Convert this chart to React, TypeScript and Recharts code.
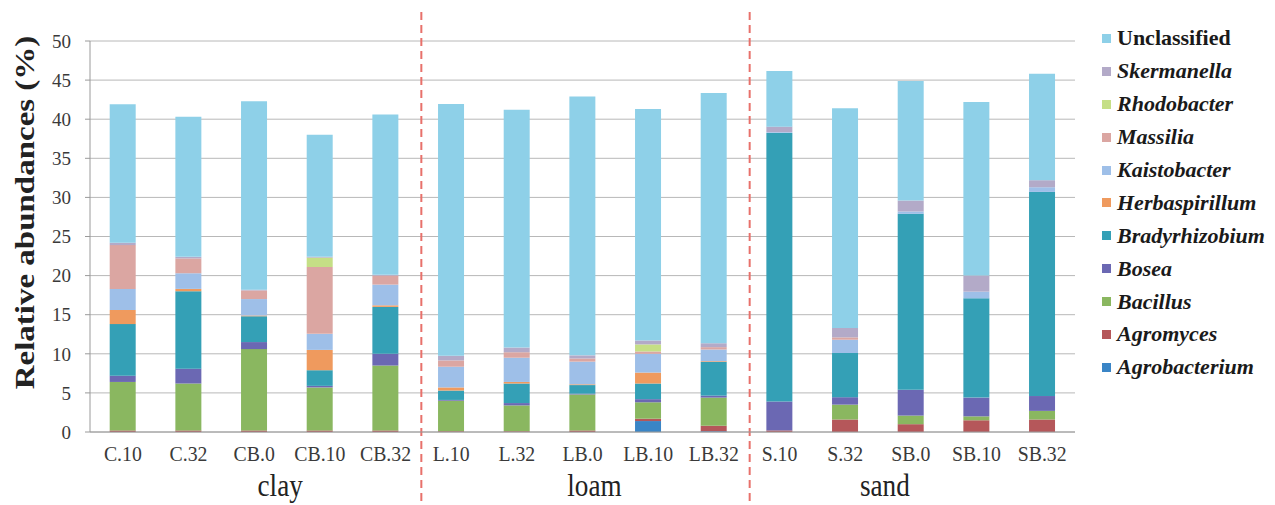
import React from 'react';
import { BarChart, Bar, XAxis, YAxis, CartesianGrid, ReferenceLine } from 'recharts';

const samples = ['C.10', 'C.32', 'CB.0', 'CB.10', 'CB.32', 'L.10', 'L.32', 'LB.0', 'LB.10', 'LB.32', 'S.10', 'S.32', 'SB.0', 'SB.10', 'SB.32'];
const soils = ['clay', 'loam', 'sand'];
const soilSize = 5;
const yTicks = [0, 5, 10, 15, 20, 25, 30, 35, 40, 45, 50];

// stack order, bottom -> top
const genera = ['Agrobacterium', 'Agromyces', 'Bacillus', 'Bosea', 'Bradyrhizobium', 'Herbaspirillum', 'Kaistobacter', 'Massilia', 'Rhodobacter', 'Skermanella', 'Unclassified'];
const colors = ['#3a85c6', '#b5575a', '#8ab760', '#6b68b3', '#34a0b6', '#ef9a5e', '#9ebfe8', '#dba6a2', '#c5df86', '#b3aac8', '#8ed0e8'];

const agrobacterium = [0, 0, 0, 0, 0, 0, 0, 0, 1.4, 0.1, 0, 0, 0, 0, 0];
const agromyces = [0.2, 0.2, 0.2, 0.2, 0.2, 0.1, 0.1, 0.2, 0.3, 0.7, 0.2, 1.6, 1.0, 1.5, 1.6];
const bacillus = [6.2, 6.0, 10.4, 5.5, 8.3, 3.9, 3.3, 4.6, 2.1, 3.6, 0, 1.9, 1.1, 0.5, 1.1];
const bosea = [0.8, 1.9, 0.9, 0.2, 1.5, 0.1, 0.3, 0.1, 0.4, 0.25, 3.7, 0.95, 3.3, 2.4, 1.9];
const bradyrhizobium = [6.6, 9.9, 3.3, 2.0, 6.0, 1.2, 2.5, 1.1, 2.0, 4.3, 34.35, 5.65, 22.5, 12.7, 26.1];
const herbaspirillum = [1.8, 0.3, 0.1, 2.6, 0.2, 0.4, 0.2, 0.1, 1.4, 0.1, 0, 0, 0, 0, 0];
const kaistobacter = [2.7, 2.0, 2.1, 2.05, 2.65, 2.65, 3.1, 2.9, 2.4, 1.5, 0.1, 1.7, 0.3, 0.85, 0.6];
const massilia = [5.6, 1.9, 1.1, 8.55, 1.15, 0.8, 0.7, 0.4, 0.3, 0.3, 0, 0.3, 0, 0, 0];
const rhodobacter = [0, 0, 0, 1.2, 0, 0, 0, 0, 0.9, 0, 0, 0, 0, 0, 0];
const skermanella = [0.3, 0.2, 0.1, 0.1, 0.1, 0.6, 0.6, 0.4, 0.5, 0.5, 0.7, 1.2, 1.4, 2.05, 0.9];
const unclassified = [17.7, 17.9, 24.1, 15.6, 20.5, 32.2, 30.4, 33.1, 29.6, 32.0, 7.1, 28.1, 15.3, 22.2, 13.6];

const series = [agrobacterium, agromyces, bacillus, bosea, bradyrhizobium, herbaspirillum, kaistobacter, massilia, rhodobacter, skermanella, unclassified];

const data = samples.map((name, i) => {
  const row: any = { name };
  genera.forEach((g, k) => {
    row[g] = series[k][i];
  });
  return row;
});

const FONT = '"Liberation Serif", "Times New Roman", serif';
const labelShift = [26, 12, -26];

const XTick = (props: any) => {
  const { x, y, payload, index } = props;
  const group = Math.floor(index / soilSize);
  const showSoil = index % soilSize === 2;
  const gx = x + labelShift[group];
  return (
    <g>
      <text transform={`translate(${x},${y + 27}) scale(0.9,1)`} textAnchor="middle" fontFamily={FONT} fontSize={22} fill="#3a3a3a">
        {payload.value}
      </text>
      {showSoil && (
        <text transform={`translate(${gx},${y + 62}) scale(0.85,1)`} textAnchor="middle" fontFamily={FONT} fontSize={32} fill="#222">
          {soils[group]}
        </text>
      )}
    </g>
  );
};

const DashLine = (p: any) => {
  const top = Math.min(p.y1, p.y2);
  const bottom = Math.max(p.y1, p.y2);
  return <line x1={p.x1 + 3} x2={p.x2 + 3} y1={top - 29} y2={bottom + 73} stroke="#e8716b" strokeWidth={2} strokeDasharray="8 5" />;
};

const YLabel = (props: any) => {
  const vb = props.viewBox || {};
  const cy = vb.y + vb.height / 2 - 24;
  return (
    <text transform={`translate(25,${cy}) rotate(-90) scale(1,0.82)`} textAnchor="middle" dominantBaseline="central" fontFamily={FONT} fontWeight="bold" fontSize={33} fill="#222">
      Relative abundances (%)
    </text>
  );
};

const LegendBox = () => (
  <div style={{ position: 'absolute', left: 1102, top: 22, width: 173, fontFamily: FONT, fontSize: 22, fontWeight: 'bold', color: '#1a1a1a' }}>
    {genera
      .map((g, k) => ({ g, c: colors[k] }))
      .reverse()
      .map(({ g, c }) => (
        <div key={g} style={{ display: 'flex', alignItems: 'center', height: 32.9, whiteSpace: 'nowrap' }}>
          <span style={{ display: 'inline-block', width: 9, height: 9, background: c, marginRight: 6 }} />
          <span style={{ fontStyle: g === 'Unclassified' ? 'normal' : 'italic' }}>{g}</span>
        </div>
      ))}
  </div>
);

export default function App() {
  return (
    <div style={{ position: 'absolute', left: 0, top: 0, width: 1275, height: 505, background: '#fff' }}>
      <BarChart width={1275} height={505} data={data} margin={{ top: 41, right: 200, bottom: 13, left: 28 }} barCategoryGap="30%">
        <CartesianGrid vertical={false} stroke="#b8b8b8" />
        <XAxis dataKey="name" tickSize={0} tickLine={false} interval={0} height={60} tick={<XTick />} stroke="#9a9a9a" />
        <YAxis domain={[0, 50]} ticks={yTicks} width={62} tickSize={5} tickMargin={14} stroke="#9a9a9a" tick={{ fontFamily: FONT, fontSize: 19, fill: '#3a3a3a' }} label={<YLabel />} />
        {genera.map((g, k) => (
          <Bar key={g} dataKey={g} stackId="a" fill={colors[k]} isAnimationActive={false} />
        ))}
        {soils.slice(0, -1).map((s, k) => (
          <ReferenceLine key={s} x={samples[(k + 1) * soilSize - 1]} position="end" shape={<DashLine />} />
        ))}
      </BarChart>
      <LegendBox />
    </div>
  );
}
